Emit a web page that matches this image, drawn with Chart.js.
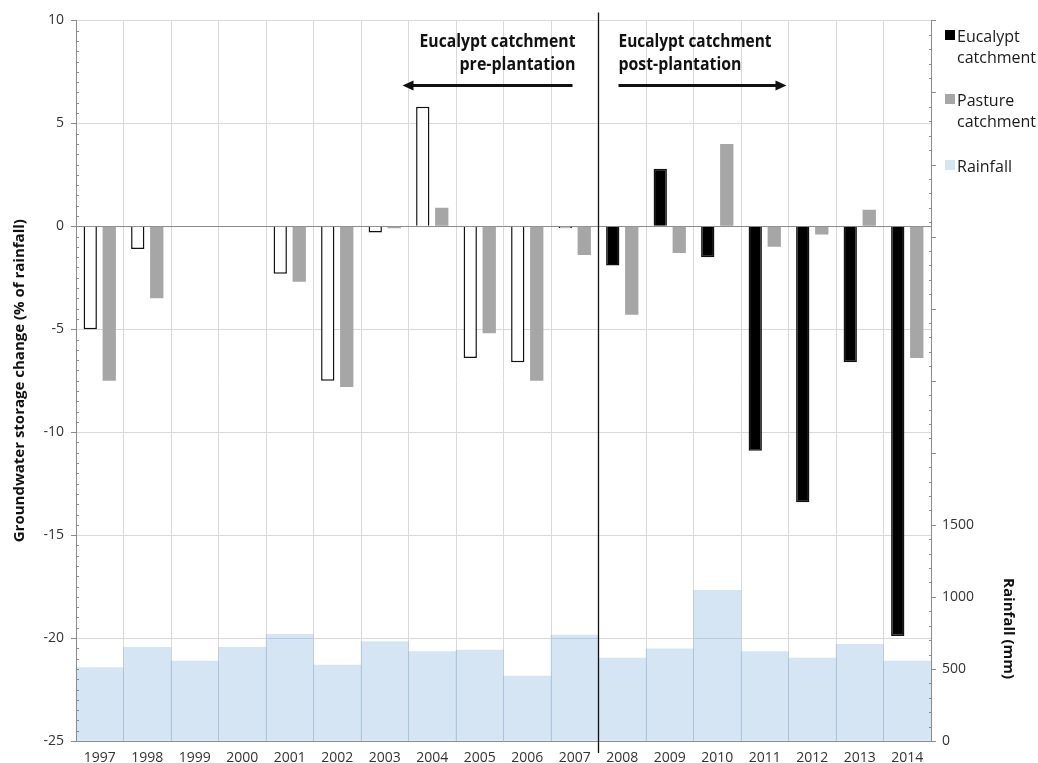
<!DOCTYPE html>
<html>
<head>
<meta charset="utf-8">
<title>Groundwater storage change and rainfall, 1997–2014</title>
<script src="https://cdn.jsdelivr.net/npm/chart.js@4.4.1/dist/chart.umd.min.js"></script>
<style>
  html, body { margin: 0; padding: 0; background: #ffffff; }
  #wrap { width: 1038px; height: 763px; position: relative; }
</style>
</head>
<body>
<div id="wrap"><canvas id="chart"></canvas></div>
<script>
// Water years
const years = ['1997','1998','1999','2000','2001','2002','2003','2004','2005',
               '2006','2007','2008','2009','2010','2011','2012','2013','2014'];

// Annual groundwater storage change, % of rainfall
const eucalyptChange = [-5.0, -1.1, null, null, -2.3, -7.5, -0.3, 5.8, -6.4,
                        -6.6, -0.1, -1.9, 2.8, -1.5, -10.9, -13.4, -6.6, -19.9];
const pastureChange  = [-7.5, -3.5, null, null, -2.7, -7.8, -0.1, 0.9, -5.2,
                        -7.5, -1.4, -4.3, -1.3, 4.0, -1.0, -0.4, 0.8, -6.4];

// Annual rainfall, mm
const rainfallMm = [510, 650, 555, 650, 740, 527, 690, 620, 630,
                    450, 735, 575, 640, 1045, 620, 575, 670, 555];

// First post-plantation year (index into years)
const firstPostPlantation = 11;

// Axis settings
const storageTicks = { min: -25, max: 10, step: 5, minor: 0.5 };
const rainTicks = { min: 0, max: 5000, step: 500, minor: 100, labelledMax: 1500 };

const FONT = '"Open Sans", "Noto Sans", sans-serif';
const AXIS_GREY = '#8c8c8c';
const GRID_GREY = '#d9d9d9';

// Hollow bars before planting, solid after
const eucalyptFill = years.map((y, i) => i < firstPostPlantation ? '#ffffff' : '#000000');

const overlay = {
  id: 'overlay',
  afterDatasetsDraw(chart) {
    const { ctx, chartArea: a, scales } = chart;
    const x = scales.x, yl = scales.y, yr = scales.yRain;
    ctx.save();

    // axis lines
    ctx.strokeStyle = AXIS_GREY;
    ctx.lineWidth = 1;
    ctx.beginPath();
    ctx.moveTo(a.left + 0.5, a.top); ctx.lineTo(a.left + 0.5, a.bottom + 0.5);
    ctx.moveTo(a.left, a.bottom + 0.5); ctx.lineTo(a.right, a.bottom + 0.5);
    ctx.moveTo(a.right + 0.5, a.top); ctx.lineTo(a.right + 0.5, a.bottom + 0.5);
    ctx.stroke();

    // left axis: major ticks outside, minor ticks inside
    ctx.beginPath();
    for (let v = storageTicks.min; v <= storageTicks.max + 1e-9; v += storageTicks.minor) {
      const py = Math.round(yl.getPixelForValue(v)) + 0.5;
      const major = Math.abs(v / storageTicks.step - Math.round(v / storageTicks.step)) < 1e-6;
      if (major) { ctx.moveTo(a.left - 5, py); ctx.lineTo(a.left + 1, py); }
      else { ctx.moveTo(a.left, py); ctx.lineTo(a.left + 3, py); }
    }
    // right axis
    for (let v = rainTicks.min; v <= rainTicks.max; v += rainTicks.minor) {
      const py = Math.round(yr.getPixelForValue(v)) + 0.5;
      if (v % rainTicks.step === 0) { ctx.moveTo(a.right, py); ctx.lineTo(a.right + 5, py); }
      else { ctx.moveTo(a.right - 2, py); ctx.lineTo(a.right + 1, py); }
    }
    ctx.stroke();

    // divider between pre- and post-plantation years
    const divX = (x.getPixelForValue(firstPostPlantation - 1) + x.getPixelForValue(firstPostPlantation)) / 2;
    ctx.strokeStyle = '#111111';
    ctx.lineWidth = 1.3;
    ctx.beginPath();
    ctx.moveTo(divX, a.top - 8);
    ctx.lineTo(divX, a.bottom + 12);
    ctx.stroke();

    // period annotations
    ctx.fillStyle = '#111111';
    ctx.font = 'bold 17px ' + FONT;
    ctx.textBaseline = 'middle';
    ctx.textAlign = 'right';
    ctx.fillText('Eucalypt catchment', divX - 23, a.top + 22, 156);
    ctx.fillText('pre-plantation', divX - 23, a.top + 45, 116);
    ctx.textAlign = 'left';
    ctx.fillText('Eucalypt catchment', divX + 20, a.top + 22, 153);
    ctx.fillText('post-plantation', divX + 20, a.top + 45, 123);

    const arrowY = a.top + 65;
    const arrow = (x0, x1) => {
      const dir = Math.sign(x1 - x0);
      ctx.lineWidth = 3;
      ctx.strokeStyle = '#111111';
      ctx.beginPath();
      ctx.moveTo(x0, arrowY);
      ctx.lineTo(x1 - dir * 8, arrowY);
      ctx.stroke();
      ctx.beginPath();
      ctx.moveTo(x1, arrowY);
      ctx.lineTo(x1 - dir * 11, arrowY - 5);
      ctx.lineTo(x1 - dir * 11, arrowY + 5);
      ctx.closePath();
      ctx.fill();
    };
    arrow(divX - 26, divX - 196);
    arrow(divX + 20, divX + 188);

    // axis titles
    ctx.font = 'bold 15px ' + FONT;
    ctx.textAlign = 'center';
    ctx.textBaseline = 'middle';
    ctx.save();
    ctx.translate(20, (a.top + a.bottom) / 2);
    ctx.rotate(-Math.PI / 2);
    ctx.fillText('Groundwater storage change (% of rainfall)', 0, 0, 330);
    ctx.restore();

    ctx.save();
    ctx.translate(1008, yr.getPixelForValue(780));
    ctx.rotate(Math.PI / 2);
    ctx.fillText('Rainfall (mm)', 0, 0, 106);
    ctx.restore();

    // legend
    const items = [
      { color: '#000000', lines: ['Eucalypt', 'catchment'], y: 35 },
      { color: '#a6a6a6', lines: ['Pasture', 'catchment'], y: 99 },
      { color: '#d5e5f4', lines: ['Rainfall'], y: 165 }
    ];
    ctx.font = '16px ' + FONT;
    ctx.textAlign = 'left';
    for (const it of items) {
      ctx.fillStyle = it.color;
      ctx.fillRect(945, it.y - 5, 10, 10);
      ctx.fillStyle = '#1a1a1a';
      it.lines.forEach((t, k) => ctx.fillText(t, 957, it.y + 2 + k * 21));
    }
    ctx.restore();
  }
};

new Chart(document.getElementById('chart'), {
  type: 'bar',
  data: {
    labels: years,
    datasets: [
      {
        label: 'Eucalypt catchment',
        data: eucalyptChange,
        yAxisID: 'y',
        backgroundColor: eucalyptFill,
        borderColor: '#111111',
        borderWidth: 1.5,
        categoryPercentage: 0.8,
        barPercentage: 0.7,
        order: 1
      },
      {
        label: 'Pasture catchment',
        data: pastureChange,
        yAxisID: 'y',
        backgroundColor: '#a6a6a6',
        borderWidth: 0,
        categoryPercentage: 0.8,
        barPercentage: 0.7,
        order: 1
      },
      {
        label: 'Rainfall',
        data: rainfallMm,
        yAxisID: 'yRain',
        backgroundColor: 'rgba(115,168,218,0.3)',
        borderWidth: 0,
        grouped: false,
        categoryPercentage: 1,
        barPercentage: 1,
        order: 2
      }
    ]
  },
  options: {
    responsive: true,
    maintainAspectRatio: false,
    animation: false,
    events: [],
    layout: { padding: { top: 20, left: 0, right: 0, bottom: 0 } },
    plugins: { legend: { display: false }, tooltip: { enabled: false } },
    scales: {
      x: {
        offset: true,
        grid: { offset: true, color: GRID_GREY, drawTicks: false },
        border: { display: false },
        ticks: { color: '#333333', font: { family: FONT, size: 14 }, padding: 9, maxRotation: 0, autoSkip: false },
        afterFit(s) { s.height = 22; }
      },
      y: {
        position: 'left',
        min: storageTicks.min,
        max: storageTicks.max,
        ticks: { stepSize: storageTicks.step, color: '#333333', font: { family: FONT, size: 14 }, padding: 12 },
        grid: {
          drawTicks: false,
          color: (c) => (c.tick && c.tick.value === 0) ? '#8c8c8c' : GRID_GREY
        },
        border: { display: false },
        afterFit(s) { s.width = 76; }
      },
      yRain: {
        position: 'right',
        min: rainTicks.min,
        max: rainTicks.max,
        ticks: {
          stepSize: rainTicks.step,
          color: '#333333',
          font: { family: FONT, size: 14 },
          padding: 11,
          callback: (v) => v <= rainTicks.labelledMax ? String(v) : ''
        },
        grid: { drawOnChartArea: false, drawTicks: false },
        border: { display: false },
        afterFit(s) { s.width = 107; }
      }
    }
  },
  plugins: [overlay]
});
</script>
</body>
</html>
